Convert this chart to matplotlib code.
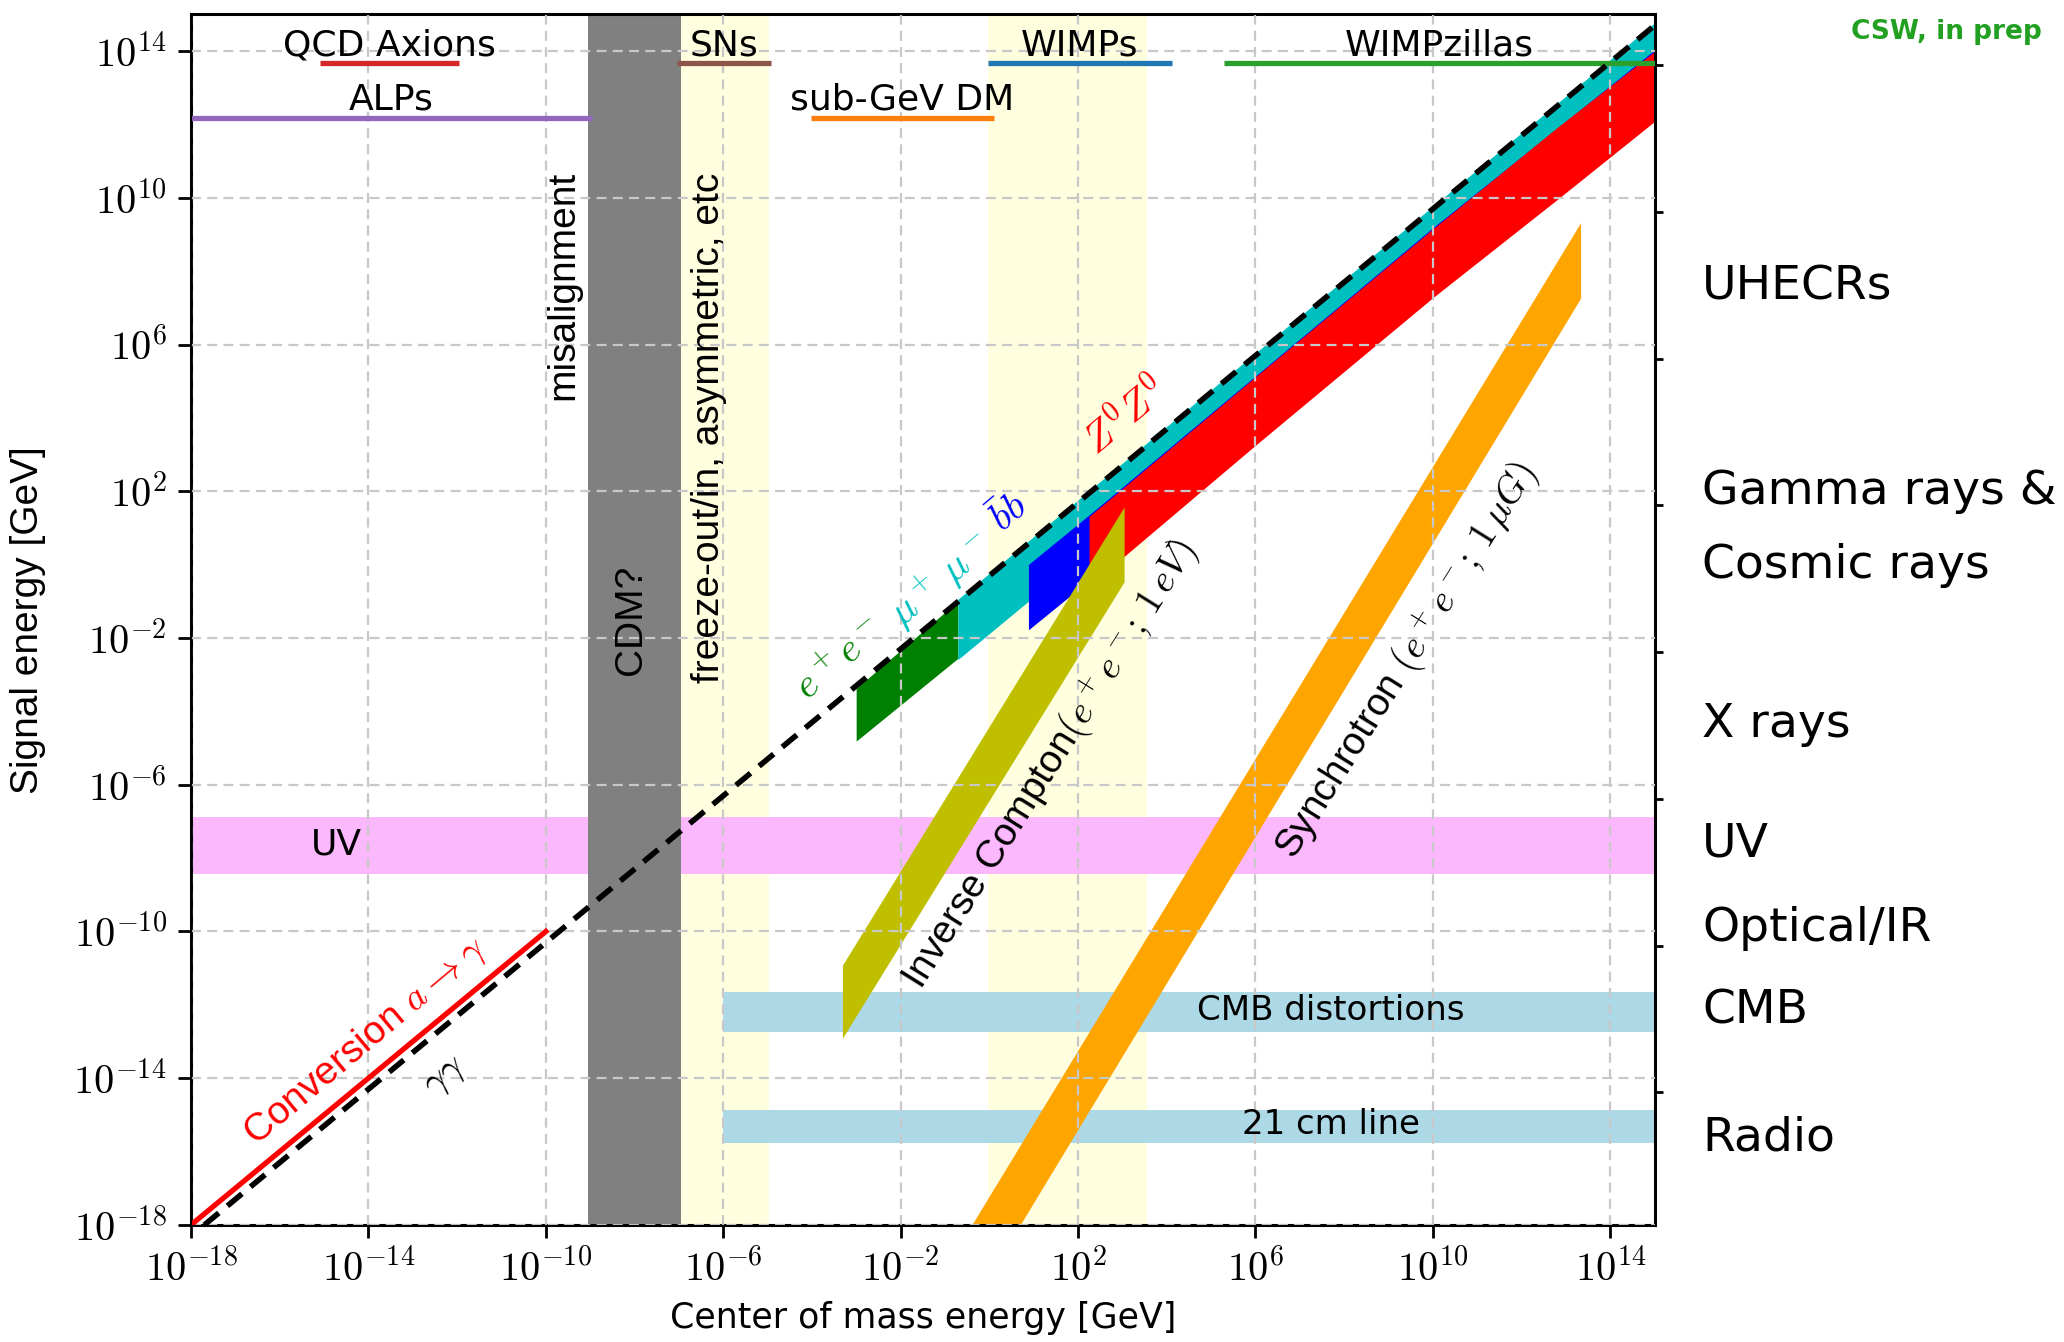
import numpy as np
import matplotlib.pyplot as plt
import matplotlib.transforms as mtransforms
from matplotlib.ticker import FixedLocator, NullLocator, FuncFormatter

plt.rcParams['font.family'] = ['DejaVu Sans']
plt.rcParams['mathtext.fontset'] = 'cm'

# ---- data (GeV) ----
# annihilation channel bands: x vertices, upper and lower edges
ee_x, ee_top, ee_bot = [1.02e-3, 0.2], [4.1e-4, 0.098], [1.5e-5, 2.7e-3]
mumu_x, mumu_top, mumu_bot = [0.2, 1e15], [0.11, 5.6e14], [2.5e-3, 1.26e13]
bb_x, bb_top, bb_bot = [7.8, 182, 1e10, 1e15], [0.98, 22, 1.45e9, 1.02e14], [0.0162, 0.36, 1.9e7, 2e12]
zz_x = [182, 1.07e3, 1e6, 1e10, 6.5e12, 1e15]
zz_top = [20, 1.2e2, 1.25e5, 1.35e9, 8.0e11, 9.3e13]
zz_bot = [0.26, 1.55, 1.7e3, 1.8e7, 8.7e9, 1.15e12]
# secondary emission bands (polygon corners)
ic_x = [5.0e-4, 5.0e-4, 1.12e3, 1.12e3]
ic_y = [1.2e-13, 1.17e-11, 36.3, 0.33]
sync_x = [0.417, 2.19e13, 2.19e13, 5.13]
sync_y = [1e-18, 2.04e9, 1.78e7, 1e-18]

# conversion and gamma-gamma lines
conv_x, conv_y = [1e-18, 1e-10], [1e-18, 1e-10]
gg_x, gg_y = [2e-18, 1e15], [1e-18, 5e14]

# dark matter candidate mass ranges
cands = ['QCD Axions', 'ALPs', 'SNs', 'sub-GeV DM', 'WIMPs', 'WIMPzillas']
cand_lo = [8e-16, 1e-18, 9e-8, 9.3e-5, 0.91, 2e5]
cand_hi = [1.1e-12, 1.1e-9, 1.2e-5, 1.26, 1.3e4, 1e15]
cand_row = [0, 1, 0, 1, 0, 0]
cand_col = ['#d62728', '#9467bd', '#8c564b', '#ff7f0e', '#1f77b4', '#2ca02c']
row_line = [4.7e13, 1.45e12]
row_text = [7.6e13, 2.5e12]

# production mechanism bands
cdm_band = [9.1e-10, 1.1e-7]
yellow_bands = [(1.1e-7, 1.1e-5), (0.95, 3.6e3)]
uv_band = [3.8e-9, 1.32e-7]
cmb_band = [1.86e-13, 2.19e-12]
hi21_band = [1.7e-16, 1.32e-15]
obs_xmin = 1e-6

# right hand side wavebands (signal energy, GeV)
wave_names = ['UHECRs', 'Gamma rays &', 'Cosmic rays', 'X rays', 'UV', 'Optical/IR', 'CMB', 'Radio']
wave_E = [3.6e7, 1.0e2, 0.93, 4.4e-5, 2.4e-8, 1.2e-10, 6.8e-13, 2.3e-16]

ticks = 10.0 ** np.arange(-18, 15, 4)
GeV_to_Hz = 2.418e23

fig = plt.figure(figsize=(20.64, 13.42), dpi=100)
ax = fig.add_axes([0.0925, 0.0872, 0.7092, 0.9021])
ax.set_xscale('log')
ax.set_yscale('log')
ax.set_xlim(1e-18, 1e15)
ax.set_ylim(1e-18, 1e15)

for lo, hi in yellow_bands:
    ax.axvspan(lo, hi, color='lightyellow', lw=0, zorder=0.5)
ax.axhspan(uv_band[0], uv_band[1], color='#fcb8fc', lw=0, zorder=0.6)
ax.axvspan(cdm_band[0], cdm_band[1], color='gray', lw=0, zorder=0.7)
ax.fill_between([obs_xmin, 1e15], cmb_band[0], cmb_band[1], color='lightblue', lw=0, zorder=0.8)
ax.fill_between([obs_xmin, 1e15], hi21_band[0], hi21_band[1], color='lightblue', lw=0, zorder=0.8)

def band(x, top, bot, c):
    ax.fill(list(x) + list(x)[::-1], list(top) + list(bot)[::-1], color=c, lw=0, zorder=1)

band(ee_x, ee_top, ee_bot, 'green')
band(mumu_x, mumu_top, mumu_bot, 'c')
band(bb_x, bb_top, bb_bot, 'blue')
band(zz_x, zz_top, zz_bot, 'red')
ax.fill(ic_x, ic_y, color='y', lw=0, zorder=1.1)
ax.fill(sync_x, sync_y, color='orange', lw=0, zorder=1.1)

ax.plot(conv_x, conv_y, color='red', lw=3.8, zorder=3)
ax.plot(gg_x, gg_y, color='k', ls=(0, (3.4, 2.0)), lw=4, zorder=4)

for name, lo, hi, r, c in zip(cands, cand_lo, cand_hi, cand_row, cand_col):
    ax.plot([lo, hi], [row_line[r]] * 2, color=c, lw=3.8, zorder=3, solid_capstyle='butt')
    ax.text(np.sqrt(lo * hi), row_text[r], name, fontsize=26, ha='center', va='baseline', zorder=5)

lib = 'Liberation Sans'
ax.text(10**-9.6, 10**7.6, 'misalignment', rotation=90, ha='center', va='center', family=lib, fontsize=28)
ax.text(10**-8.08, 10**-1.5, 'CDM?', rotation=90, ha='center', va='center', family=lib, fontsize=28)
ax.text(10**-6.32, 10**3.74, 'freeze-out/in, asymmetric, etc', rotation=90, ha='center', va='center',
        family=lib, fontsize=28)
ax.text(10**-14.73, 10**-7.62, 'UV', ha='center', va='center', fontsize=26)
ax.text(10**7.69, 10**-12.15, 'CMB distortions', ha='center', va='center', fontsize=24.5)
ax.text(10**7.69, 10**-15.27, '21 cm line', ha='center', va='center', fontsize=24.5)

ax.text(10**-14.07, 10**-13.0, r'Conversion $a\rightarrow\gamma$', color='red', rotation=40,
        rotation_mode='anchor', ha='center', va='center', family=lib, fontsize=28)
ax.text(10**-12.29, 10**-13.92, r'$\gamma\gamma$', rotation=40, rotation_mode='anchor',
        ha='center', va='center', fontsize=28)
ax.text(10**-3.37, 10**-2.59, r'$e^+e^-$', color='green', rotation=40, rotation_mode='anchor',
        ha='center', va='center', fontsize=29)
ax.text(10**-1.09, 10**-0.41, r'$\mu^+\,\mu^-$', color='c', rotation=40, rotation_mode='anchor',
        ha='center', va='center', fontsize=29)
ax.text(10**0.45, 10**1.4, r'$\bar{b}b$', color='blue', rotation=40, rotation_mode='anchor',
        ha='center', va='center', fontsize=29)
ax.text(10**3.08, 10**4.02, r'$Z^0Z^0$', color='red', rotation=40, rotation_mode='anchor',
        ha='center', va='center', fontsize=29)
ax.text(10**1.375, 10**-5.44, r'Inverse Compton$(e^+e^-;\,1\,eV)$', rotation=58, rotation_mode='anchor',
        ha='center', va='center', family=lib, fontsize=28)
ax.text(10**9.41, 10**-2.61, r'Synchrotron $(e^+e^-;\,1\,\mu G)$', rotation=58, rotation_mode='anchor',
        ha='center', va='center', family=lib, fontsize=28)

fmt = FuncFormatter(lambda v, p: r'$10^{%d}$' % int(round(np.log10(v))))
for axis in (ax.xaxis, ax.yaxis):
    axis.set_major_locator(FixedLocator(ticks))
    axis.set_minor_locator(NullLocator())
    axis.set_major_formatter(fmt)
ax.tick_params(which='major', direction='out', length=9.5, width=2, labelsize=29, pad=8)
ax.set_axisbelow(False)
ax.grid(True, which='major', color='#c8c8c8', lw=1.6, ls=(0, (4.5, 2.8)))
for s in ax.spines.values():
    s.set_linewidth(2.2)

ax.set_xlabel('Center of mass energy [GeV]', fontsize=25)
ax.xaxis.set_label_coords(0.5, -0.063)
ax.set_ylabel('Signal energy [GeV]', family=lib, fontsize=28)
ax.yaxis.set_label_coords(-0.099, 0.5)

# frequency twin axis: ticks only
ax2 = ax.twinx()
ax2.set_yscale('log')
ax2.set_ylim(1e-18 * GeV_to_Hz, 1e15 * GeV_to_Hz)
ax2.yaxis.set_major_locator(FixedLocator(10.0 ** np.arange(9, 38, 4)))
ax2.yaxis.set_minor_locator(NullLocator())
ax2.set_yticklabels([])
ax2.tick_params(which='major', direction='out', length=6, width=2)

trans = mtransforms.blended_transform_factory(ax.transAxes, ax.transData)
for name, e in zip(wave_names, wave_E):
    ax.text(1.0324, e, name, transform=trans, fontsize=34, ha='left', va='center', clip_on=False)

fig.text(0.943, 0.9765, 'CSW, in prep', color='#22a022', fontsize=19, fontweight='bold',
         ha='center', va='center')

fig.savefig('out.png', dpi=100)
